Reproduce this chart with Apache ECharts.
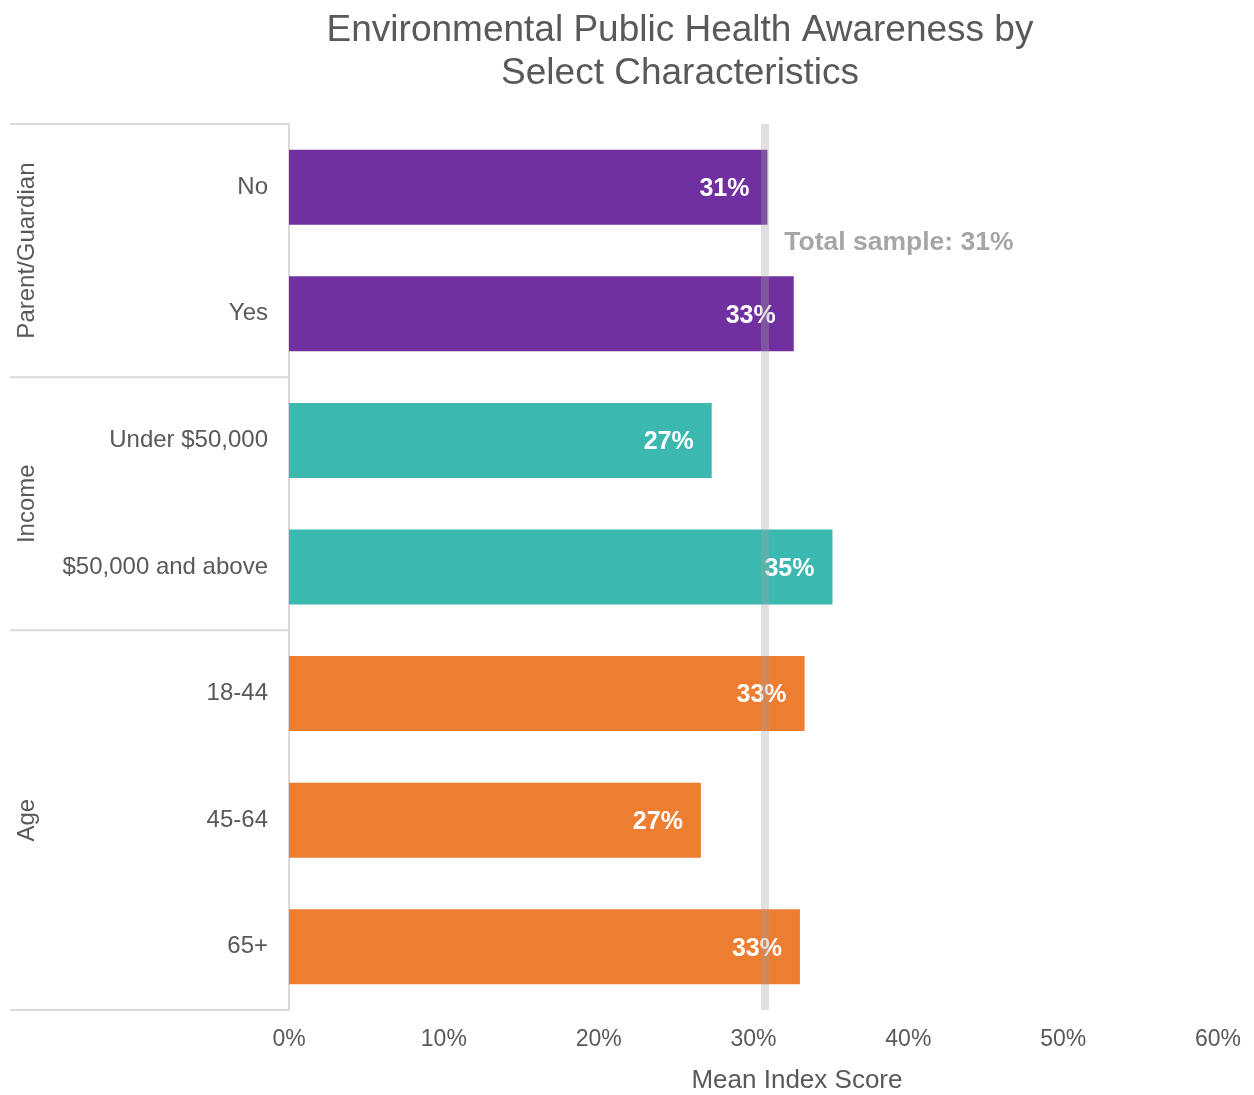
<!DOCTYPE html>
<html><head><meta charset="utf-8">
<script src="https://cdn.jsdelivr.net/npm/echarts@6/dist/echarts.min.js"></script>
<style>html,body{margin:0;padding:0;background:#fff}#c{width:1254px;height:1095px}</style>
</head><body><div id="c"></div>
<script>
const categories = ['No', 'Yes', 'Under $50,000', '$50,000 and above', '18-44', '45-64', '65+'];
const values = [30.9, 32.6, 27.3, 35.1, 33.3, 26.6, 33.0];
const barColors = ['#7030A0', '#7030A0', '#3BB9B0', '#3BB9B0', '#ED7D31', '#ED7D31', '#ED7D31'];
const groups = [
  { name: 'Parent/Guardian', start: 0, end: 1 },
  { name: 'Income', start: 2, end: 3 },
  { name: 'Age', start: 4, end: 6 }
];
const totalSample = 30.7;
const totalLabel = 'Total sample: 31%';
const xTicks = [0, 10, 20, 30, 40, 50, 60];

const FONT = 'Liberation Sans, Arial, sans-serif';
const TXT = '#595959';
const chart = echarts.init(document.getElementById('c'));
const option = {
  animation: false,
  title: {
    text: 'Environmental Public Health Awareness by\nSelect Characteristics',
    left: 675, top: 4, textAlign: 'center',
    textStyle: { fontFamily: FONT, fontWeight: 'normal', fontSize: 37, color: TXT, lineHeight: 43 }
  },
  grid: { left: 289, right: 36, top: 124, bottom: 85, containLabel: false },
  xAxis: {
    type: 'value', min: xTicks[0], max: xTicks[xTicks.length - 1], interval: 10,
    axisLine: { show: false }, axisTick: { show: false }, splitLine: { show: false },
    axisLabel: { formatter: '{value}%', fontFamily: FONT, fontSize: 23, color: TXT, margin: 18 }
  },
  yAxis: {
    type: 'category', data: categories, inverse: true,
    axisLine: { show: true, lineStyle: { color: '#d9d9d9', width: 2 } },
    axisTick: { show: false },
    axisLabel: { fontFamily: FONT, fontSize: 24, color: TXT, margin: 21 }
  },
  series: [{
    type: 'bar', barWidth: 75,
    data: values.map((v, i) => ({ value: v, itemStyle: { color: barColors[i] } })),
    label: {
      show: true, position: 'insideRight', distance: 18, offset: [0, 2],
      formatter: p => Math.round(p.value) + '%',
      fontFamily: FONT, fontWeight: 'bold', fontSize: 25, color: '#fff'
    },
    markLine: {
      silent: true, symbol: 'none', z: 10,
      lineStyle: { color: 'rgba(160,160,160,0.33)', width: 8, type: 'solid', opacity: 1 },
      label: { show: false },
      data: [{ xAxis: totalSample }]
    }
  }]
};
chart.setOption(option);

// Build group separators and labels via the axis scale
const graphics = [];
const half = (chart.convertToPixel({ yAxisIndex: 0 }, 1) - chart.convertToPixel({ yAxisIndex: 0 }, 0)) / 2;
const x0 = chart.convertToPixel({ xAxisIndex: 0 }, 0);
const lineStyle = { stroke: '#d9d9d9', lineWidth: 2 };
groups.forEach((g, gi) => {
  const yTop = chart.convertToPixel({ yAxisIndex: 0 }, g.start) - half;
  const yBot = chart.convertToPixel({ yAxisIndex: 0 }, g.end) + half;
  if (gi === 0) graphics.push({ type: 'line', shape: { x1: 10, y1: yTop, x2: x0, y2: yTop }, style: lineStyle });
  graphics.push({ type: 'line', shape: { x1: 10, y1: yBot, x2: x0, y2: yBot }, style: lineStyle });
  graphics.push({
    type: 'text', x: 27, y: (yTop + yBot) / 2, rotation: Math.PI / 2,
    style: { text: g.name, fontFamily: FONT, fontSize: 24, fill: TXT, align: 'center', verticalAlign: 'middle' }
  });
});
const xt = chart.convertToPixel({ xAxisIndex: 0 }, totalSample);
const yt = (chart.convertToPixel({ yAxisIndex: 0 }, 0) + chart.convertToPixel({ yAxisIndex: 0 }, 1)) / 2;
graphics.push({
  type: 'text', x: xt + 20, y: yt - 8, z: 20,
  style: { text: totalLabel, fontFamily: FONT, fontWeight: 'bold', fontSize: 26.5, fill: '#a6a6a6', align: 'left', verticalAlign: 'middle' }
});
const xm = chart.convertToPixel({ xAxisIndex: 0 }, 33);
graphics.push({
  type: 'text', x: xm - 3, y: 1081,
  style: { text: 'Mean Index Score', fontFamily: FONT, fontSize: 26, fill: TXT, align: 'center', verticalAlign: 'middle' }
});
chart.setOption({ graphic: graphics });
</script>
</body></html>
